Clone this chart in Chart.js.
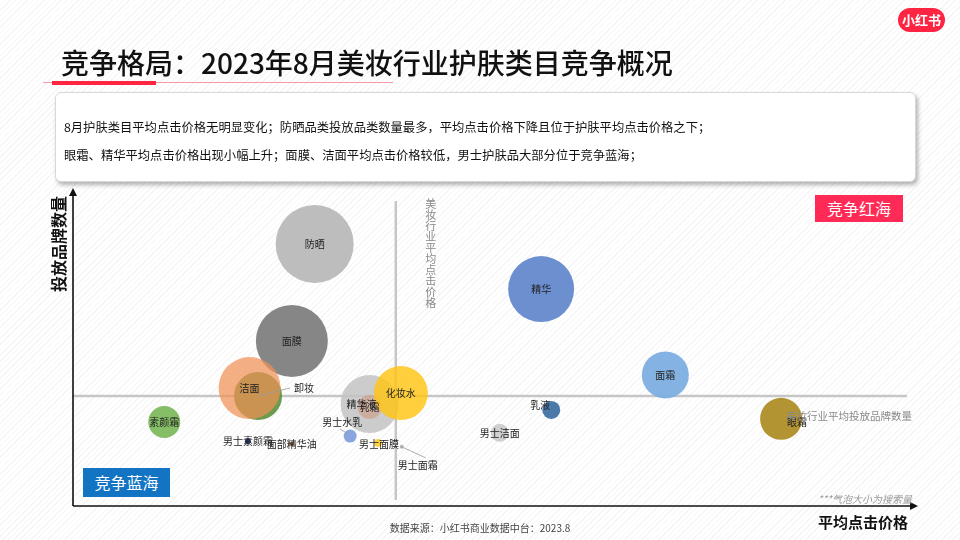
<!DOCTYPE html>
<html>
<head>
<meta charset="utf-8">
<script src="https://cdn.jsdelivr.net/npm/chart.js@4/dist/chart.umd.min.js"></script>
<style>
  body { margin:0; }
  #page {
    position:relative; width:960px; height:540px; overflow:hidden;
    font-family:"Noto Sans CJK SC","Noto Sans",sans-serif;
    background: repeating-linear-gradient(135deg, #ffffff 0 3px, #f5f5f5 3px 4px);
  }
  #chart { position:absolute; left:0; top:0; }
  .abs { position:absolute; }
  #title { left:61px; top:42px; font-size:28px; font-weight:500; color:#111; white-space:nowrap; }
  #thin { left:43px; top:82px; width:350px; height:1px; background:#f59aa6; }
  #thick { left:52px; top:81px; width:104px; height:4px; background:#ff2442; }
  #box {
    left:55px; top:92px; width:861px; height:90px; background:#fff;
    border:1px solid #d8d8d8; border-radius:6px; box-shadow:2px 3px 4px rgba(0,0,0,0.3);
    font-size:12.3px; color:#111; line-height:28px; padding:20px 0 0 8px; box-sizing:border-box;
  }
  #logo { left:898px; top:8px; width:47px; height:24px; border-radius:12px; background:#ff2442;
    color:#fff; font-weight:bold; font-size:13px; text-align:center; line-height:24px; }
  #red { left:815px; top:195px; width:88px; height:27px; background:#ff2a55; color:#fff;
    font-size:16px; text-align:center; line-height:27px; }
  #blue { left:83px; top:468px; width:87px; height:29px; background:#1474c4; color:#fff;
    font-size:16px; text-align:center; line-height:29px; }
  #ylab { left:10px; top:232px; width:96px; transform:rotate(-90deg); font-size:16px; font-weight:bold; color:#111; text-align:center; }
  #xlab { left:818px; top:511px; font-size:15px; font-weight:bold; color:#111; }
  #note { left:818px; top:491px; font-size:10px; font-style:italic; color:#9a9a9a; }
  #src { left:0; width:960px; top:520px; text-align:center; font-size:10px; color:#444; }
</style>
</head>
<body>
<div id="page">
  <canvas id="chart" width="960" height="540"></canvas>
  <div class="abs" id="title">竞争格局：2023年8月美妆行业护肤类目竞争概况</div>
  <div class="abs" id="thin"></div>
  <div class="abs" id="thick"></div>
  <div class="abs" id="box">8月护肤类目平均点击价格无明显变化；防晒品类投放品类数量最多，平均点击价格下降且位于护肤平均点击价格之下；<br>眼霜、精华平均点击价格出现小幅上升；面膜、洁面平均点击价格较低，男士护肤品大部分位于竞争蓝海；</div>
  <div class="abs" id="logo">小红书</div>
  <div class="abs" id="red">竞争红海</div>
  <div class="abs" id="blue">竞争蓝海</div>
  <div class="abs" id="ylab">投放品牌数量</div>
  <div class="abs" id="xlab">平均点击价格</div>
  <div class="abs" id="note">***气泡大小为搜索量</div>
  <div class="abs" id="src">数据来源：小红书商业数据中台：2023.8</div>
</div>
<script>
// 品类 / 平均点击价格(相对值) / 投放品牌数量(相对值) / 气泡半径(搜索量)
const categories = ['防晒','面膜','卸妆','洁面','精华液','乳霜','化妆水','精华','面霜','乳液','男士洁面','眼霜','素颜霜','男士素颜霜','面部精华油','男士水乳','男士面膜','男士面霜'];
const avgPrice   = [28.6, 25.9, 21.9, 20.9, 35.1, 35.1, 38.8, 55.4, 70.1, 56.6, 50.5, 83.8, 10.8, 20.7, 25.9, 32.8, 36.1, 38.9];
const brandCount = [82.4, 51.9, 34.6, 37.1, 32.1, 31.1, 35.5, 68.2, 41.2, 30.2, 23.0, 27.4, 26.4, 20.4, 19.5, 22.0, 19.8, 18.6];
const searchSize = [39, 36, 24, 31, 29, 12, 27, 33, 23.5, 9, 9, 21, 16, 3, 2, 6.5, 4, 2];

// 行业平均
const industryAvgPrice = 38.2;
const industryAvgBrands = 34.6;

const colors = ['rgba(185,185,185,0.95)','rgba(128,128,128,0.95)','rgba(100,150,70,0.95)','rgba(240,145,85,0.72)',
  'rgba(195,195,195,0.85)','rgba(205,150,120,0.55)','rgba(255,196,20,0.82)','rgba(100,137,205,0.95)',
  'rgba(125,175,225,0.95)','rgba(65,115,165,0.95)','rgba(205,205,205,0.95)','rgba(175,142,40,0.95)',
  'rgba(128,185,95,0.95)','rgba(40,65,115,1)','rgba(140,70,20,1)','rgba(130,160,220,0.95)',
  'rgba(255,210,70,1)','rgba(180,180,180,1)'];

// 标签偏移与引导线 [dx, dy, leader]
const labelOffsets = {
  '卸妆': [46, -8, true],
  '乳液': [-11, -5, false],
  '眼霜': [16, 3, false],
  '男士水乳': [-8, -14, true],
  '男士面霜': [16, 18, true],
  '精华液': [-8, 0, false],
  '男士面膜': [1, 1, false]
};

const points = categories.map((c, i) => ({x: avgPrice[i], y: brandCount[i], r: searchSize[i]}));

const decor = {
  id: 'decor',
  beforeDatasetsDraw(chart) {
    const {ctx, chartArea: a, scales: {x, y}} = chart;
    ctx.save();
    ctx.strokeStyle = '#c6c6c6';
    ctx.lineWidth = 2.5;
    const hy = y.getPixelForValue(industryAvgBrands);
    const vx = x.getPixelForValue(industryAvgPrice);
    ctx.beginPath(); ctx.moveTo(a.left, hy); ctx.lineTo(a.right - 11, hy); ctx.stroke();
    ctx.beginPath(); ctx.moveTo(vx, a.top + 13); ctx.lineTo(vx, a.bottom - 6); ctx.stroke();
    // 参考线说明
    ctx.fillStyle = '#8a8a8a';
    ctx.font = '11px "Noto Sans CJK SC"';
    ctx.textAlign = 'center'; ctx.textBaseline = 'middle';
    const vt = '美妆行业平均点击价格';
    for (let i = 0; i < vt.length; i++) ctx.fillText(vt[i], vx + 35, a.top + 16 + i * 11);
    ctx.restore();
  },
  afterDatasetsDraw(chart) {
    const {ctx, chartArea: a, scales: {x, y}} = chart;
    const meta = chart.getDatasetMeta(0);
    ctx.save();
    ctx.font = '10px "Noto Sans CJK SC"';
    ctx.textAlign = 'center'; ctx.textBaseline = 'middle';
    meta.data.forEach((el, i) => {
      const name = categories[i];
      const off = labelOffsets[name] || [0, 0, false];
      const lx = el.x + off[0], ly = el.y + off[1];
      if (off[2]) {
        ctx.strokeStyle = '#999'; ctx.lineWidth = 0.8;
        ctx.beginPath();
        if (name === '卸妆') { ctx.moveTo(el.x, el.y); ctx.lineTo(lx - 14, ly); }
        else if (name === '男士水乳') { ctx.moveTo(el.x - 2, el.y - 2); ctx.lineTo(lx - 2, ly + 7); }
        else { ctx.moveTo(el.x, el.y); ctx.lineTo(lx + 8, ly - 7); }
        ctx.stroke();
      }
      ctx.fillStyle = '#222';
      ctx.fillText(name, lx, ly);
    });
    ctx.fillStyle = '#8a8a8a';
    ctx.font = '10.5px "Noto Sans CJK SC"';
    ctx.fillText('美妆行业平均投放品牌数量', a.right - 69, y.getPixelForValue(industryAvgBrands) + 20);
    // 坐标轴箭头
    ctx.strokeStyle = '#111'; ctx.fillStyle = '#111'; ctx.lineWidth = 1.6;
    ctx.beginPath(); ctx.moveTo(a.left, a.bottom); ctx.lineTo(a.left, a.top + 4); ctx.stroke();
    ctx.beginPath(); ctx.moveTo(a.left, a.top); ctx.lineTo(a.left - 4, a.top + 8); ctx.lineTo(a.left + 4, a.top + 8); ctx.fill();
    ctx.beginPath(); ctx.moveTo(a.left, a.bottom); ctx.lineTo(a.right - 4, a.bottom); ctx.stroke();
    ctx.beginPath(); ctx.moveTo(a.right, a.bottom); ctx.lineTo(a.right - 8, a.bottom - 4); ctx.lineTo(a.right - 8, a.bottom + 4); ctx.fill();
    ctx.restore();
  }
};

new Chart(document.getElementById('chart'), {
  type: 'bubble',
  data: {
    datasets: [{
      data: points,
      backgroundColor: colors,
      borderWidth: 0,
      hoverRadius: 0
    }]
  },
  options: {
    responsive: false,
    animation: false,
    layout: { autoPadding: false, padding: { left: 73, right: 42, top: 188, bottom: 34 } },
    plugins: { legend: { display: false }, tooltip: { enabled: false } },
    scales: {
      x: { display: false, min: 0, max: 100 },
      y: { display: false, min: 0, max: 100 }
    }
  },
  plugins: [decor]
});
</script>
</body>
</html>
